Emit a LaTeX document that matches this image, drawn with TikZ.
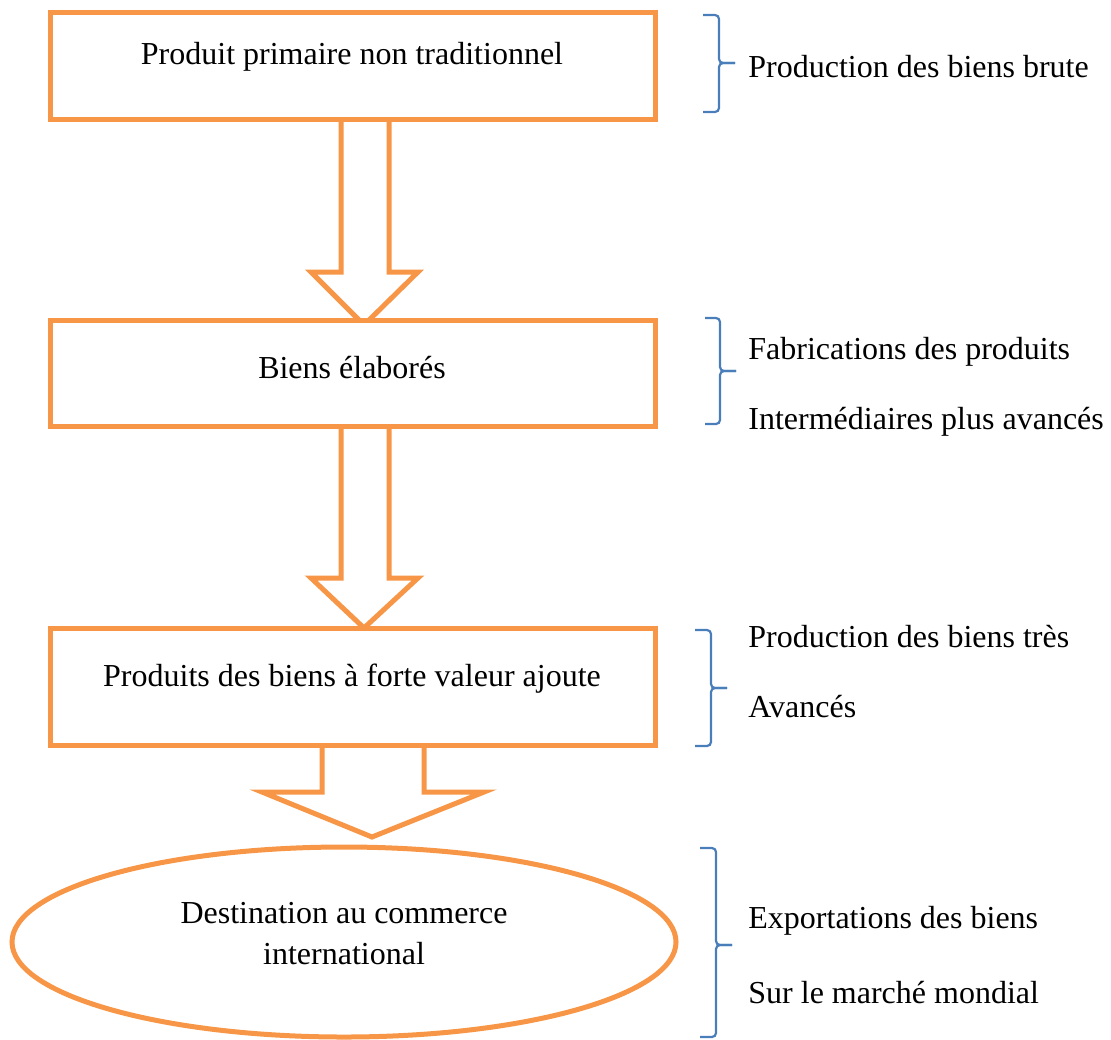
\documentclass[tikz,border=0pt]{standalone}
\usepackage{fontspec}
\setmainfont{Liberation Serif}
\usetikzlibrary{shapes.geometric}
\definecolor{orng}{HTML}{F79646}
\definecolor{blu}{HTML}{4A7EBB}
\tikzset{
  box/.style={draw=orng, line width=2.5pt, minimum width=302.5pt, inner sep=0pt, fill=white},
  blockarrow/.style={draw=orng, line width=2.5pt, fill=white, line join=miter},
  brc/.style={draw=blu, line width=1.1pt, rounded corners=2pt},
  lbl/.style={anchor=west, inner sep=0pt, font=\fontsize{16}{19}\selectfont},
  txt/.style={font=\fontsize{16}{19}\selectfont}
}
\begin{document}
\begin{tikzpicture}[x=0.5pt, y=-0.5pt]
\useasboundingbox (0,0) rectangle (1111,1039);
% block arrows
\draw[blockarrow] (341,119) -- (341,272) -- (311,272) -- (364,325) -- (418,272) -- (389,272) -- (389,119);
\draw[blockarrow] (341,426) -- (341,578) -- (311,578) -- (364,628) -- (418,578) -- (389,578) -- (389,426);
\draw[blockarrow] (322,745) -- (322,792) -- (262,792) -- (372,837) -- (484,792) -- (424,792) -- (424,745);
% boxes
\node[box, minimum height=53.5pt] (b1) at (352.5,65.5) {};
\node[txt] (t1) at (352,57) {Produit primaire non traditionnel};
\node[box, minimum height=53pt] (b2) at (352.5,373) {};
\node[txt] (t2) at (352,368) {Biens élaborés};
\node[box, minimum height=58.5pt] (b3) at (352.5,686.5) {};
\node[txt] (t3) at (352,679) {Produits des biens à forte valeur ajoute};
\node[ellipse, draw=orng, line width=2.5pt, minimum width=332pt, minimum height=95pt, inner sep=0pt] (e) at (344,942) {};
\node[txt, align=center, font=\fontsize{16}{20.5}\selectfont] (t4) at (344,934) {Destination au commerce\\international};
% braces
\draw[brc] (703,15) -- (719,15) -- (719,63) -- (735,63);
\draw[brc] (735,63) -- (719,63) -- (719,112) -- (703,112);
\draw[brc] (705,318) -- (720,318) -- (720,371) -- (736,371);
\draw[brc] (736,371) -- (720,371) -- (720,424) -- (705,424);
\draw[brc] (695,630) -- (711,630) -- (711,688) -- (727,688);
\draw[brc] (727,688) -- (711,688) -- (711,746) -- (695,746);
\draw[brc] (700,848) -- (716,848) -- (716,945) -- (732,945);
\draw[brc] (732,945) -- (716,945) -- (716,1037) -- (700,1037);
% side labels
\node[lbl] (r1) at (748,67) {Production des biens brute};
\node[lbl] (r2) at (748,352) {Fabrications des produits};
\node[lbl] (r3) at (748,422) {Intermédiaires plus avancés};
\node[lbl] (r4) at (748,637) {Production des biens très};
\node[lbl] (r5) at (748,707) {Avancés};
\node[lbl] (r6) at (748,921) {Exportations des biens};
\node[lbl] (r7) at (748,993) {Sur le marché mondial};
\end{tikzpicture}
\end{document}
